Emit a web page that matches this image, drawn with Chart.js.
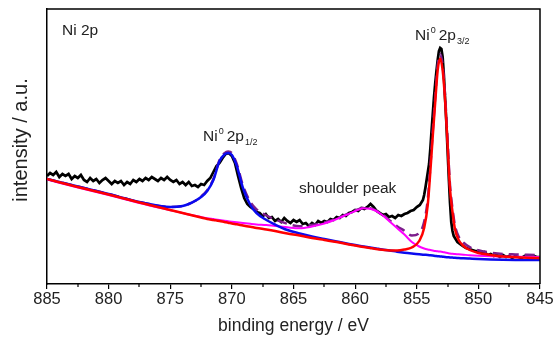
<!DOCTYPE html>
<html>
<head>
<meta charset="utf-8">
<script src="https://cdn.jsdelivr.net/npm/chart.js@4.4.1/dist/chart.umd.min.js"></script>
<style>
  html, body { margin: 0; padding: 0; background: #fff; }
  canvas { display: block; }
</style>
</head>
<body>
<canvas id="xpsCanvas" width="557" height="337"></canvas>
<script>
// measured Ni 2p spectrum (binding energy in eV, intensity in a.u.)
const spectrumEnergy = [
  885, 884.75, 884.5, 884.25, 884, 883.75, 883.5, 883.25,
  883, 882.75, 882.5, 882.25, 882, 881.75, 881.5, 881.25,
  881, 880.75, 880.5, 880.25, 880, 879.75, 879.5, 879.25,
  879, 878.75, 878.5, 878.25, 878, 877.75, 877.5, 877.25,
  877, 876.75, 876.5, 876.25, 876, 875.75, 875.5, 875.25,
  875, 874.75, 874.5, 874.25, 874, 873.75, 873.5, 873.25,
  873, 872.75, 872.5, 872.25, 872, 871.75, 871.5, 871.25,
  871, 870.75, 870.5, 870.25, 870, 869.75, 869.5, 869.25,
  869, 868.75, 868.5, 868.25, 868, 867.75, 867.5, 867.25,
  867, 866.75, 866.5, 866.25, 866, 865.75, 865.5, 865.25,
  865, 864.75, 864.5, 864.25, 864, 863.75, 863.5, 863.25,
  863, 862.75, 862.5, 862.25, 862, 861.75, 861.5, 861.25,
  861, 860.75, 860.5, 860.25, 860, 859.75, 859.5, 859.25,
  859, 858.75, 858.5, 858.25, 858, 857.75, 857.5, 857.25,
  857, 856.75, 856.5, 856.25, 856, 855.75, 855.5, 855.25,
  855, 854.75, 854.5,
  854.4, 854.3, 854.2, 854.1, 854, 853.9, 853.8, 853.7, 853.6, 853.5,
  853.4, 853.3, 853.2, 853.1, 853, 852.9, 852.8, 852.7, 852.6, 852.5,
  852.4, 852.3, 852.2, 852.1, 852, 851.9, 851.8, 851.7, 851.6,
  851.5, 851.25, 851, 850.75, 850.5, 850.25, 850, 849.75, 849.5,
  849.25, 849, 848.75, 848.5, 848.25, 848, 847.75, 847.5, 847.25,
  847, 846.75, 846.5, 846.25, 846, 845.75, 845.5, 845.25, 845
];
const spectrumCounts = [
  108, 111, 109, 112, 107, 110, 108, 110,
  105, 108, 106, 109, 104, 102, 106, 103,
  105, 101, 104, 106, 103, 100, 103, 101,
  103, 99, 102, 100, 104, 102, 105, 103,
  106, 104, 107, 105, 103, 106, 104, 107,
  104, 102, 104, 100, 102, 99, 102, 98,
  99, 97, 100, 99, 103, 106, 112, 118,
  121, 126, 130, 131, 128, 121, 108, 96,
  86, 80, 77, 75, 72, 71, 68, 70,
  66, 67, 63, 65, 62, 66, 63, 61,
  64, 62, 64, 60, 61, 58, 61, 59,
  63, 61, 63, 62, 65, 64, 67, 66,
  69, 68, 71, 72, 74, 73, 76, 75,
  77, 80, 77, 73, 71, 69, 70, 67,
  68, 66, 69, 68, 70, 71, 73, 74,
  77, 79, 84,
  89, 96, 104, 112, 120, 135, 153, 170, 187, 201,
  213, 224, 233, 236, 235, 227, 209, 185, 162, 134,
  106, 81, 62, 53, 48, 46, 44, 42, 41,
  40, 38, 36, 35, 34, 33, 33, 31, 32,
  29, 30, 28, 29, 27, 29, 27, 28, 26,
  28, 27, 26, 28, 27, 26, 28, 27, 27
];

// fitted components, all on the same energy grid
const fitEnergy = [
  885, 882.5, 880, 877.5, 875, 874, 873.5, 873, 872.5, 872,
  871.5, 871, 870.6, 870.3, 870, 869.6, 869.1, 868.5, 868, 867.2,
  866.5, 865.5, 864.5, 863.5, 862.5, 861.5, 860.5, 859.8, 859.3, 858.8,
  858.3, 857.8, 857.2, 856.6, 856, 855.4, 854.8, 854.4, 854.1, 853.9,
  853.7, 853.5, 853.3, 853.1, 852.9, 852.7, 852.5, 852.3, 852.1, 851.9,
  851.6, 851.2, 850.7, 850, 849, 848, 847, 846, 845
];
const ni2p12Fit = [
  105, 97.5, 90, 82, 77, 78, 80, 83, 87, 93,
  104, 123, 129.5, 131, 129, 118, 96, 79, 71, 64,
  59.5, 54, 50.5, 47.5, 45, 42.5, 40, 38.5, 37.5, 36.5,
  35.5, 34.5, 33.5, 32.3, 31.3, 30.5, 29.8, 29.3, 29, 28.7,
  28.4, 28.1, 27.8, 27.6, 27.3, 27, 26.8, 26.6, 26.4, 26.2,
  26, 25.7, 25.4, 25, 24.6, 24.3, 24.1, 24, 24
];
const ni2p32Fit = [
  105, 97, 89.5, 81.5, 74, 71, 69.5, 68, 66.5, 65,
  64, 63, 62, 61.3, 60.5, 59.7, 58.5, 57.2, 56, 54.5,
  53, 50.5, 48.5, 46, 44, 42, 39.5, 38, 37, 36,
  35, 34.2, 33.5, 33.5, 34.5, 36.5, 43, 56, 80, 112,
  148, 182, 214, 225.5, 214, 184, 140, 95, 72, 55,
  44, 38, 34, 31, 29, 27.5, 26.8, 26.3, 26
];
const shoulderFit = [
  104.5, 96.5, 89, 81, 73.8, 71, 69.5, 68.2, 67, 65.8,
  64.9, 64, 63.3, 62.8, 62.3, 61.7, 61, 60.2, 59.6, 59,
  58, 56.7, 55.7, 57.5, 60.5, 65, 70.2, 74, 75.7, 75.3,
  73, 69, 62.5, 56, 49.5, 42, 37.5, 35.5, 34.5, 34,
  33.5, 33, 32.7, 32.4, 32, 31.5, 31, 30.5, 30.2, 30,
  29.7, 29.3, 28.8, 28.3, 27.8, 27.5, 27.3, 27.1, 27
];
const envelopeFit = [
  105, 97.5, 90, 82, 77, 78, 80, 83, 87.5, 93.8,
  105, 124, 130.8, 132.5, 130.8, 120, 98.5, 82, 74.6, 68.5,
  64.5, 60.2, 57.7, 59, 61.5, 65.5, 70.7, 74.5, 76.2, 75.8,
  73.5, 69.7, 63.5, 57.8, 53.3, 48.4, 50.9, 62.2, 85.5, 117.2,
  153, 186.7, 218.7, 230.1, 218.5, 188.2, 144, 98.7, 75.6, 58.6,
  47.5, 41.3, 36.8, 33.7, 31.4, 30.1, 29.6, 29.2, 29
];

const minorTicks = [882.5, 877.5, 872.5, 867.5, 862.5, 857.5, 852.5, 847.5];

const FONT = '"Liberation Sans", Arial, sans-serif';

function pairs(xs, ys) {
  return xs.map((x, i) => ({ x: x, y: ys[i] }));
}

function drawPeakName(ctx, x, y, sub) {
  ctx.font = '15.5px ' + FONT;
  ctx.fillText('Ni', x, y);
  x += ctx.measureText('Ni').width + 1;
  ctx.font = '9px ' + FONT;
  ctx.fillText('0', x, y - 7);
  x += ctx.measureText('0').width + 3;
  ctx.font = '15.5px ' + FONT;
  ctx.fillText('2p', x, y);
  x += ctx.measureText('2p').width + 1;
  ctx.font = '9px ' + FONT;
  ctx.fillText(sub, x, y + 4);
}

const framePlugin = {
  id: 'frame',
  afterDraw(chart) {
    const ctx = chart.ctx;
    const area = chart.chartArea;
    const xs = chart.scales.x;
    ctx.save();
    ctx.strokeStyle = '#000';
    ctx.lineWidth = 1.5;
    ctx.beginPath();
    ctx.moveTo(area.left, area.top);
    ctx.lineTo(area.right, area.top);
    ctx.lineTo(area.right, area.bottom);
    ctx.stroke();
    // minor ticks
    ctx.lineWidth = 1.2;
    ctx.beginPath();
    minorTicks.forEach(v => {
      const px = Math.round(xs.getPixelForValue(v));
      ctx.moveTo(px, area.bottom);
      ctx.lineTo(px, area.bottom + 3);
    });
    ctx.stroke();

    ctx.fillStyle = '#222';
    ctx.textBaseline = 'alphabetic';
    ctx.font = '15.5px ' + FONT;
    ctx.fillText('Ni 2p', 62, 35);
    ctx.fillText('shoulder peak', 299, 193);
    drawPeakName(ctx, 203, 141, '1/2');
    drawPeakName(ctx, 415, 40, '3/2');

    // y axis title
    ctx.save();
    ctx.translate(21, 140);
    ctx.rotate(-Math.PI / 2);
    ctx.textAlign = 'center';
    ctx.textBaseline = 'middle';
    ctx.font = '20px ' + FONT;
    ctx.fillText('intensity / a.u.', 0, 0);
    ctx.restore();
    ctx.restore();
  }
};

const ctx = document.getElementById('xpsCanvas').getContext('2d');

// Chart.js paints the first dataset on top, so the list runs top -> bottom
const xpsChart = new Chart(ctx, {
  type: 'line',
  data: {
    datasets: [
      {
        label: 'Ni 2p3/2',
        data: pairs(fitEnergy, ni2p32Fit),
        borderColor: '#ff0000',
        borderWidth: 2.5,
        cubicInterpolationMode: 'monotone'
      },
      {
        label: 'Ni 2p1/2',
        data: pairs(fitEnergy, ni2p12Fit),
        borderColor: '#0a0aef',
        borderWidth: 2.5,
        cubicInterpolationMode: 'monotone'
      },
      {
        label: 'shoulder',
        data: pairs(fitEnergy, shoulderFit),
        borderColor: '#ff00ff',
        borderWidth: 2,
        cubicInterpolationMode: 'monotone'
      },
      {
        label: 'envelope',
        data: pairs(fitEnergy, envelopeFit),
        borderColor: '#7d1f8c',
        borderWidth: 2.5,
        borderDash: [10, 6],
        cubicInterpolationMode: 'monotone'
      },
      {
        label: 'spectrum',
        data: pairs(spectrumEnergy, spectrumCounts),
        borderColor: '#000',
        borderWidth: 2.7,
        tension: 0
      }
    ]
  },
  options: {
    responsive: false,
    animation: false,
    devicePixelRatio: 1,
    layout: { padding: { top: 9, right: 17, left: 0, bottom: 0 } },
    elements: { point: { radius: 0 } },
    plugins: {
      legend: { display: false },
      tooltip: { enabled: false }
    },
    scales: {
      x: {
        type: 'linear',
        reverse: true,
        min: 845,
        max: 885,
        afterFit: scale => { scale.height = 53; },
        border: { display: true, color: '#000', width: 1.5 },
        grid: { drawOnChartArea: false, drawTicks: true, tickLength: 5, color: '#000', lineWidth: 1.2 },
        ticks: {
          stepSize: 5,
          padding: 1,
          maxRotation: 0,
          color: '#222',
          font: { family: FONT, size: 16.5 }
        },
        title: {
          display: true,
          text: 'binding energy / eV',
          color: '#222',
          font: { family: FONT, size: 17.5 },
          padding: { top: 0, bottom: 0 }
        }
      },
      y: {
        min: 0,
        max: 275,
        afterFit: scale => { scale.width = 47; },
        border: { display: true, color: '#000', width: 1.5 },
        grid: { display: false },
        ticks: { display: false },
        title: { display: false }
      }
    }
  },
  plugins: [framePlugin]
});
</script>
</body>
</html>
